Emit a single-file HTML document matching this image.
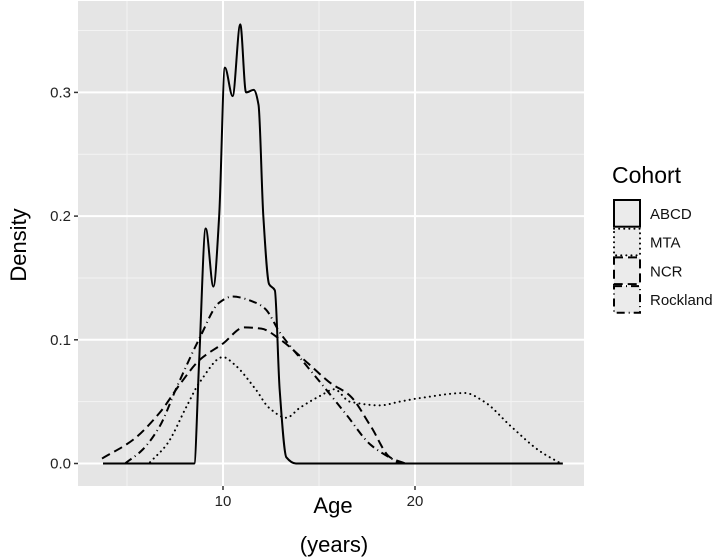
<!DOCTYPE html>
<html><head><meta charset="utf-8"><style>
html,body{margin:0;padding:0;background:#fff;}
svg{display:block;font-family:"Liberation Sans",sans-serif;}
</style></head><body>
<svg id="chart" width="715" height="558" viewBox="0 0 715 558">
<rect x="78" y="1" width="506" height="485" fill="#e5e5e5"/>
<g id="grid"></g>
<g id="series"></g>
<g id="axes"></g>
<text x="26" y="245" font-size="22" text-anchor="middle" transform="rotate(-90 26 245)">Density</text>
<text x="333" y="513" font-size="22" text-anchor="middle">Age</text>
<text x="334" y="552" font-size="22" text-anchor="middle">(years)</text>
<g id="legend">
<text x="612" y="183" font-size="23">Cohort</text>
</g>
</svg>
<script>
const seriesNames = ["ABCD","MTA","NCR","Rockland"];
const dashes = ["", "0.1 5", "9 5", "8 4 1 4"];
const abcdAge = [3.75,8.5,8.75,9.1,9.5,9.8,10.1,10.5,10.9,11.2,11.6,11.85,12.1,12.4,12.7,12.95,13.3,13.8,27.7];
const abcdDen = [0,0,0.08,0.19,0.143,0.2,0.32,0.297,0.355,0.30,0.302,0.29,0.20,0.145,0.14,0.06,0.005,0,0];
const mtaAge = [6.2,7.1,8.1,8.8,10,10.6,11.7,12.4,13.3,14,15.1,15.8,16.6,18.2,19.2,20.3,22.6,23.6,25,26.5,27.6];
const mtaDen = [0.001,0.016,0.046,0.066,0.086,0.08,0.06,0.045,0.037,0.045,0.055,0.06,0.05,0.047,0.05,0.053,0.057,0.05,0.03,0.01,0];
const ncrAge = [3.7,5.3,6.7,7.8,8.8,10,11.1,12,13,14.5,15.6,16.6,17.7,18.7,19.5];
const ncrDen = [0.004,0.019,0.041,0.065,0.084,0.097,0.11,0.109,0.1,0.08,0.065,0.055,0.03,0.005,0];
const rockAge = [4.9,5.8,6.7,7.6,8.8,9.8,10.5,11.7,12.2,13,14.3,15.1,16.4,17.7,19.2];
const rockDen = [0,0.011,0.03,0.062,0.102,0.13,0.135,0.13,0.125,0.105,0.08,0.065,0.04,0.015,0];
const xTicks = [10,20];
const xMinor = [5,15,25];
const yTicks = [0,0.1,0.2,0.3];
const yMinor = [0.05,0.15,0.25,0.35];
const NS="http://www.w3.org/2000/svg";
const X = a => 223 + 19.2*(a-10);
const Y = d => 463.5 - 1237*d;
function mk(tag, attrs, parent){const e=document.createElementNS(NS,tag);for(const k in attrs)e.setAttribute(k,attrs[k]);parent.appendChild(e);return e;}
const grid=document.getElementById('grid'), axes=document.getElementById('axes'), ser=document.getElementById('series');
xMinor.forEach(v=>{const l=mk('line',{x1:X(v),x2:X(v),y1:1,y2:486,stroke:'#f3f3f3','stroke-width':1},grid);

});
yMinor.forEach(v=>{const l=mk('line',{x1:78,x2:584,y1:Y(v),y2:Y(v),stroke:'#f3f3f3','stroke-width':1},grid);

});
xTicks.forEach(v=>{const l=mk('line',{x1:X(v),x2:X(v),y1:1,y2:486,stroke:'#fff','stroke-width':2},grid);


const t=mk('line',{x1:X(v),x2:X(v),y1:486,y2:490,stroke:'#333','stroke-width':1.5},axes);


const tx=mk('text',{x:X(v),y:506,'font-size':15,'text-anchor':'middle',fill:'#222'},axes);tx.textContent=v;

});
yTicks.forEach(v=>{const l=mk('line',{x1:78,x2:584,y1:Y(v),y2:Y(v),stroke:'#fff','stroke-width':2},grid);


const t=mk('line',{x1:74,x2:78,y1:Y(v),y2:Y(v),stroke:'#333','stroke-width':1.5},axes);


const tx=mk('text',{x:71,y:Y(v)+5,'font-size':15,'text-anchor':'end',fill:'#222'},axes);tx.textContent=v.toFixed(1);

});
function smooth(xs,ys){
  const px=xs.map(X), py=ys.map(Y), n=px.length;
  const dl=[], m=[];
  for(let i=0;i<n-1;i++) dl.push((py[i+1]-py[i])/(px[i+1]-px[i]));
  for(let i=0;i<n;i++){
    if(i===0) m.push(dl[0]); else if(i===n-1) m.push(dl[n-2]);
    else if(dl[i-1]*dl[i]<=0) m.push(0);
    else m.push(2/(1/dl[i-1]+1/dl[i]));
  }
  let d='M'+px[0]+','+py[0];
  for(let i=0;i<n-1;i++){const h=(px[i+1]-px[i])/3;
    d+=' C'+(px[i]+h)+','+(py[i]+m[i]*h)+' '+(px[i+1]-h)+','+(py[i+1]-m[i+1]*h)+' '+px[i+1]+','+py[i+1];}
  return d;}
const data=[[mtaAge,mtaDen,1],[ncrAge,ncrDen,2],[rockAge,rockDen,3],[abcdAge,abcdDen,0]];
data.forEach(([xs,ys,i])=>{const pth=mk('path',{d:smooth(xs,ys),fill:'none',stroke:'#000','stroke-width':2,'stroke-dasharray':dashes[i],'stroke-linecap':i==1?'round':'butt'},ser);

});
const leg=document.getElementById('legend');
seriesNames.forEach((n,i)=>{const y=199+i*28.7;
const r=mk('rect',{x:614,y:y+1,width:26,height:26.7,fill:'#ebebeb',stroke:'#000','stroke-width':2,'stroke-dasharray':dashes[i],'stroke-linecap':i==1?'round':'butt'},leg);


const t=mk('text',{x:650,y:y+20,'font-size':15,fill:'#111'},leg);t.textContent=n;

});
</script>
</body></html>
